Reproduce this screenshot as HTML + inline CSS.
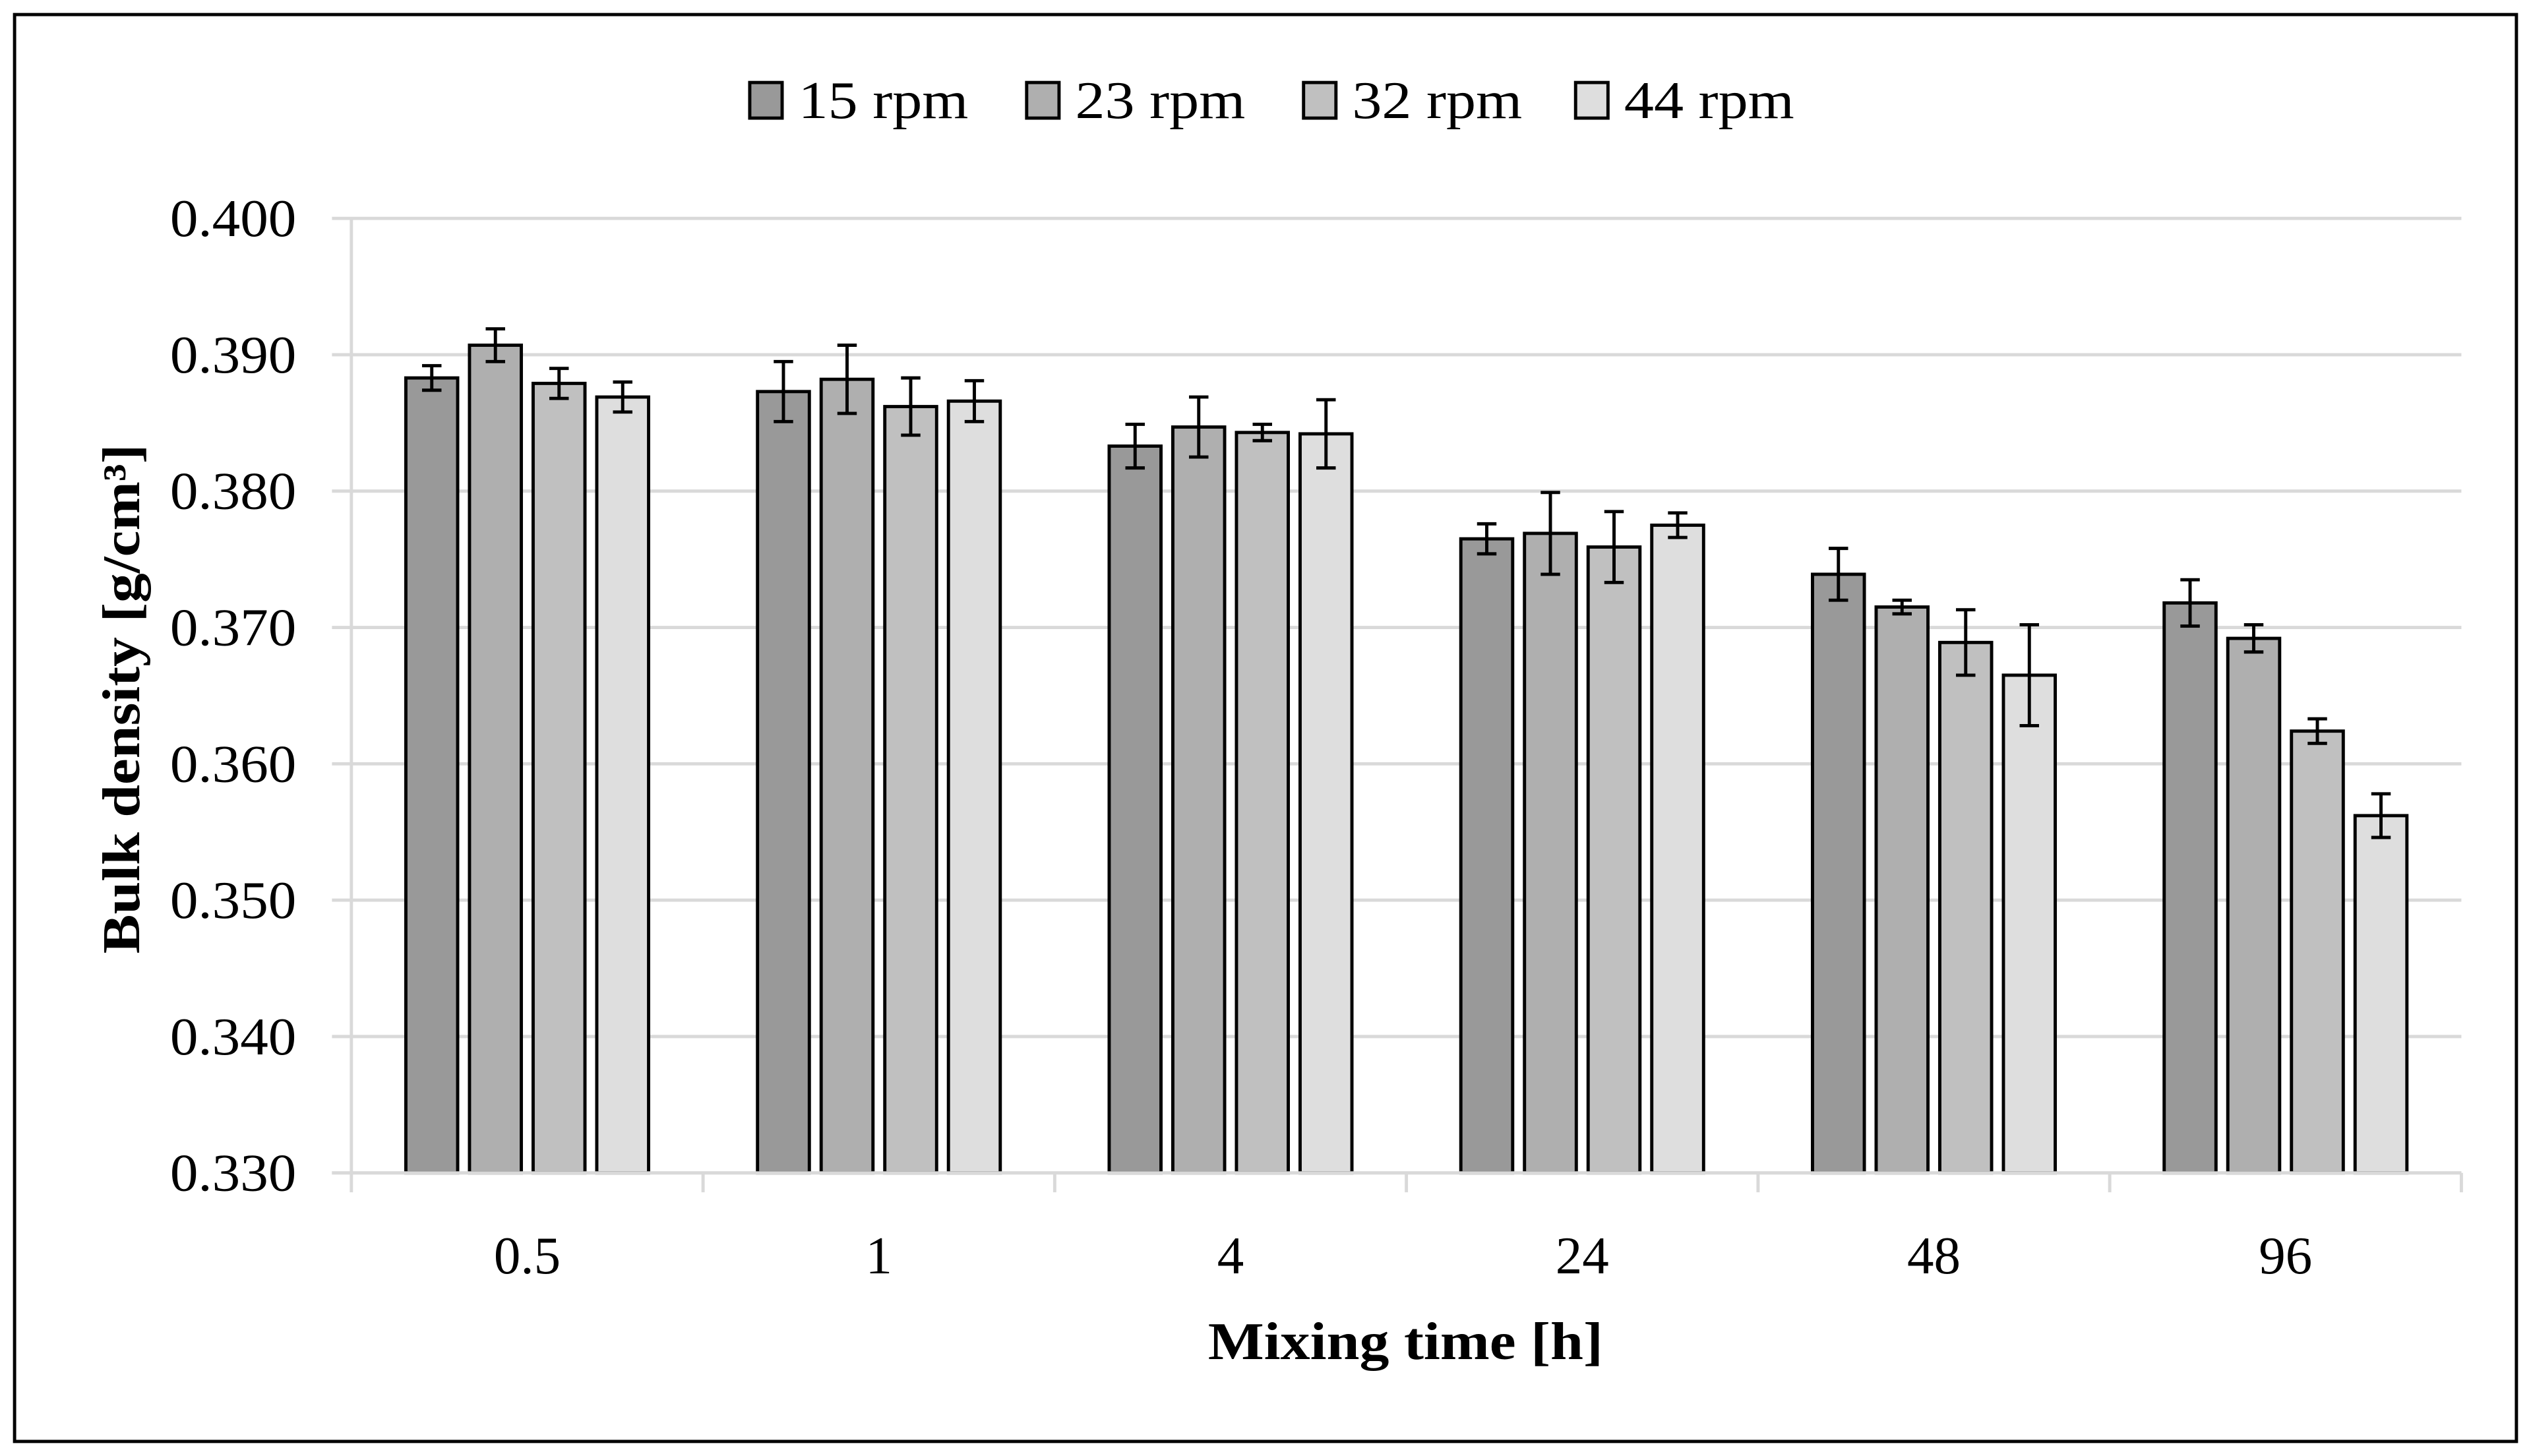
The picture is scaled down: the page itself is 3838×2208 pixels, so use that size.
<!DOCTYPE html>
<html><head><meta charset="utf-8"><style>
html,body{margin:0;padding:0;background:#fff;}
svg{display:block;}
text{font-family:"Liberation Serif",serif;fill:#000;}
</style></head><body>
<svg id="chart" width="3838" height="2208" viewBox="0 0 1563 900" preserveAspectRatio="none" xmlns="http://www.w3.org/2000/svg">
<rect x="9" y="9" width="1545" height="882" fill="#fff" stroke="#000" stroke-width="2"/>
<g id="grid"></g><g id="bars"></g><g id="axes"></g><g id="legend"></g>
<text x="868" y="840" font-size="33" font-weight="bold" text-anchor="middle" textLength="244" lengthAdjust="spacingAndGlyphs">Mixing time [h]</text>
<text transform="translate(86,432) rotate(-90)" font-size="33" font-weight="bold" text-anchor="middle" textLength="315" lengthAdjust="spacingAndGlyphs">Bulk density [g/cm³]</text>
</svg>
<script>
const categories=["0.5","1","4","24","48","96"];
const seriesNames=["15 rpm","23 rpm","32 rpm","44 rpm"];
const s15=[0.3883,0.3873,0.3833,0.3765,0.3739,0.3718];
const s23=[0.3907,0.3882,0.3847,0.3769,0.3715,0.3692];
const s32=[0.3879,0.3862,0.3843,0.3759,0.3689,0.3624];
const s44=[0.3869,0.3866,0.3842,0.3775,0.3665,0.3562];
const e15=[0.0009,0.0022,0.0016,0.0011,0.0019,0.0017];
const e23=[0.0012,0.0025,0.0022,0.0030,0.0005,0.0010];
const e32=[0.0011,0.0021,0.0006,0.0026,0.0024,0.0009];
const e44=[0.0011,0.0015,0.0025,0.0009,0.0037,0.0016];
const yTicks=[0.330,0.340,0.350,0.360,0.370,0.380,0.390,0.400];
const colors=["#999999","#afafaf","#c0c0c0","#dedede"];
const NS="http://www.w3.org/2000/svg";
const L=217,R=1520,T=135,B=725,ymin=0.33,ymax=0.40;
const y=v=>B-(v-ymin)/(ymax-ymin)*(B-T);
const cw=(R-L)/categories.length;
const x=i=>L+cw*(i+0.5);
function mk(tag,attrs,parent){const e=document.createElementNS(NS,tag);for(const k in attrs)e.setAttribute(k,attrs[k]);parent.appendChild(e);return e;}
const grid=document.getElementById('grid'),bars=document.getElementById('bars'),axes=document.getElementById('axes'),legend=document.getElementById('legend');
yTicks.forEach(t=>{
 const g=mk('line',{x1:L-12,x2:R,y1:y(t),y2:y(t),stroke:'#d9d9d9','stroke-width':2},grid);
 
 
 const tx=mk('text',{x:183,y:y(t)+11,'font-size':33,'text-anchor':'end',textLength:78,lengthAdjust:'spacingAndGlyphs'},axes);
 tx.textContent=t.toFixed(3);
 
 
});
const va=mk('line',{x1:L,x2:L,y1:T,y2:B,stroke:'#d9d9d9','stroke-width':2},grid);


const xa=mk('line',{x1:L-12,x2:R,y1:B,y2:B,stroke:'#d9d9d9','stroke-width':2},axes);


for(let i=0;i<=categories.length;i++){
 const tk=mk('line',{x1:L+cw*i,x2:L+cw*i,y1:B,y2:B+12,stroke:'#d9d9d9','stroke-width':2},axes);
 
 
}
categories.forEach((c,i)=>{
 const tx=mk('text',{x:x(i),y:787,'font-size':33,'text-anchor':'middle'},axes);
 tx.textContent=c;
 
 
});
const series=[s15,s23,s32,s44],errs=[e15,e23,e32,e44];
const bw=32,step=39.3;
series.forEach((s,k)=>{
 s.forEach((v,i)=>{
  const bx=x(i)+(k-1.5)*step-bw/2;
  const r=mk('rect',{x:bx,y:y(v),width:bw,height:B-y(v),fill:colors[k],stroke:'#000','stroke-width':2},bars);
  
  
  const cx=bx+bw/2,e=errs[k][i];
  const eb=mk('path',{d:`M${cx},${y(v+e)}V${y(v-e)}M${cx-6},${y(v+e)}H${cx+6}M${cx-6},${y(v-e)}H${cx+6}`,stroke:'#000','stroke-width':2,fill:'none'},bars);
  
  
 });
});
const lx=[463,634,805,973];
seriesNames.forEach((n,k)=>{
 const sq=mk('rect',{x:lx[k],y:51,width:20,height:22,fill:colors[k],stroke:'#000','stroke-width':2},legend);
 
 
 const tx=mk('text',{x:lx[k]+30,y:73,'font-size':33,textLength:105,lengthAdjust:'spacingAndGlyphs'},legend);
 tx.textContent=n;
 
 
});
</script>
</body></html>
